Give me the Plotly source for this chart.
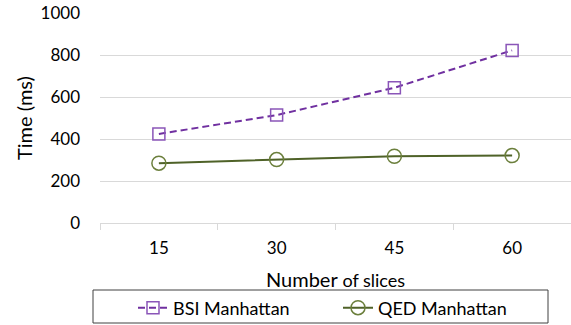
import plotly.graph_objects as go

categories = ["15", "30", "45", "60"]
bsi_manhattan = [424, 514, 644, 822]
qed_manhattan = [285, 302, 318, 321]
y_ticks = [0, 200, 400, 600, 800, 1000]

FONT = "Lato"
W, H = 571, 325
ML, MR, MT, MB = 100, 0, 13, 102
PW = W - ML - MR
PH = H - MT - MB

def px_x(px):
    return (px - ML) / PW

def px_y(py):
    return (H - MB - py) / PH

fig = go.Figure()
fig.add_trace(go.Scatter(
    x=categories, y=bsi_manhattan, name="BSI Manhattan",
    mode="lines+markers",
    line=dict(color="#7030A0", width=2, dash="7px,4px"),
    marker=dict(symbol="square-open", size=12, color="#8a55b8",
                line=dict(width=1.5, color="#8a55b8")),
))
fig.add_trace(go.Scatter(
    x=categories, y=qed_manhattan, name="QED Manhattan",
    mode="lines+markers",
    line=dict(color="#4F6228", width=2),
    marker=dict(symbol="circle-open", size=14, color="#6b7f3c",
                line=dict(width=1.5, color="#6b7f3c")),
))

fig.add_shape(type="rect", xref="paper", yref="paper",
              x0=px_x(93), x1=px_x(548), y0=px_y(323), y1=px_y(290),
              line=dict(color="#404040", width=1), fillcolor="rgba(0,0,0,0)")

fig.update_layout(
    width=W, height=H,
    margin=dict(l=ML, r=MR, t=MT, b=MB, autoexpand=False),
    paper_bgcolor="white", plot_bgcolor="white",
    font=dict(family=FONT, size=17, color="#000000"),
    showlegend=True,
    legend=dict(orientation="h", x=px_x(133), xanchor="left",
                y=px_y(308), yanchor="middle",
                entrywidth=160, entrywidthmode="pixels",
                font=dict(family=FONT, size=18, color="#000000"),
                bgcolor="rgba(0,0,0,0)"),
    xaxis=dict(
        type="category", range=[-0.5, 3.5], automargin=False,
        showgrid=False, showline=True, linecolor="#d9d9d9", linewidth=1,
        ticks="outside", tickson="boundaries", ticklen=6, tickcolor="#d9d9d9",
        tickfont=dict(family=FONT, size=17, color="#000000"),
        ticklabelstandoff=10,
        title=dict(text="Number <span style='font-size:18px'>of slices</span>",
                   font=dict(family=FONT, size=20, color="#000000"), standoff=15),
        zeroline=False,
    ),
    yaxis=dict(
        range=[0, 1000], tickvals=y_ticks, automargin=False,
        showgrid=True, gridcolor="#d9d9d9", gridwidth=1,
        showline=False, zeroline=False, ticks="",
        tickfont=dict(family=FONT, size=17, color="#000000"),
        ticklabelstandoff=19,
        title=dict(text="Time (ms)", font=dict(family=FONT, size=20, color="#000000"), standoff=2),
    ),
)

fig.write_html("out.html", config={"displayModeBar": False},
               post_script="document.body.style.margin='0';document.body.style.overflow='hidden';")
